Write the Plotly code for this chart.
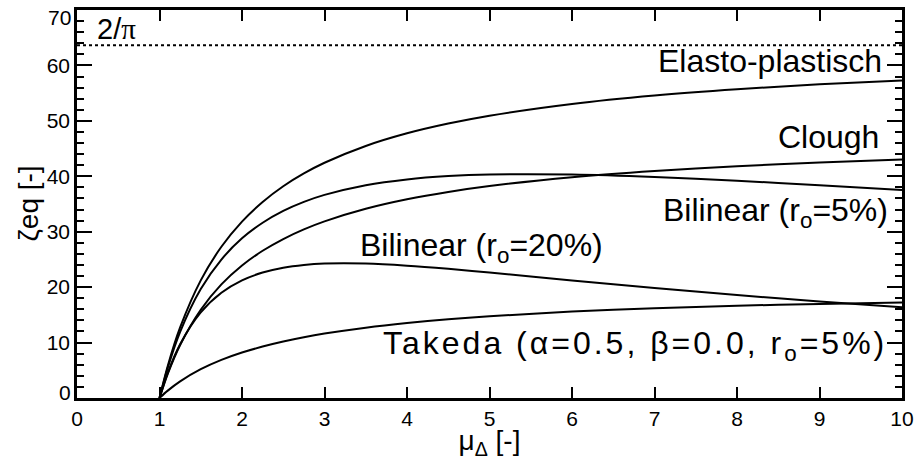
import plotly.graph_objects as go

mu = [1, 1.1, 1.25, 1.5, 1.75, 2, 2.25, 2.5, 2.75, 3, 3.5, 4, 4.5, 5, 6, 7, 8, 9, 10]
elasto = [0, 5.79, 12.73, 21.22, 27.28, 31.83, 35.37, 38.20, 40.51, 42.44, 45.47, 47.75, 49.51, 50.93, 53.05, 54.57, 55.70, 56.59, 57.29]
clough = [0, 4.35, 9.56, 15.93, 20.49, 23.90, 26.56, 28.68, 30.42, 31.87, 34.14, 35.85, 37.18, 38.24, 39.83, 40.97, 41.83, 42.49, 43.02]
bilin5 = [0, 5.47, 11.95, 19.67, 24.98, 28.80, 31.62, 33.76, 35.39, 36.65, 38.40, 39.44, 40.03, 40.32, 40.32, 39.88, 39.20, 38.40, 37.54]
bilin20 = [0, 4.54, 9.70, 15.43, 18.98, 21.22, 22.63, 23.51, 24.01, 24.25, 24.25, 23.87, 23.30, 22.63, 21.22, 19.84, 18.57, 17.41, 16.37]
takeda = [0, 1.33, 3.00, 5.19, 6.87, 8.20, 9.28, 10.19, 10.96, 11.62, 12.69, 13.53, 14.20, 14.75, 15.59, 16.19, 16.64, 16.98, 17.24]
limit_x = [0, 10]
limit_y = [63.66, 63.66]

xticks = [0, 1, 2, 3, 4, 5, 6, 7, 8, 9, 10]
yticks = [0, 10, 20, 30, 40, 50, 60, 70]

FONT = "Liberation Sans, Arial, sans-serif"

fig = go.Figure()
for ys in [elasto, clough, bilin5, bilin20, takeda]:
    fig.add_trace(go.Scatter(x=mu, y=ys, mode="lines",
                             line=dict(color="black", width=2, shape="spline", smoothing=0.8),
                             showlegend=False, hoverinfo="skip"))
fig.add_trace(go.Scatter(x=limit_x, y=limit_y, mode="lines",
                         line=dict(color="black", width=2, dash="dot"),
                         showlegend=False, hoverinfo="skip"))

labels = [
    ("2/<span style='font-family:Liberation Serif'>π</span>", 0.22, 66.6, "left", 29),
    ("Elasto-plastisch", 9.78, 60.8, "right", 32),
    ("Clough", 9.74, 47.1, "right", 32),
    ("Bilinear (r<sub>o</sub>=5%)", 9.85, 33.4, "right", 32),
    ("Bilinear (r<sub>o</sub>=20%)", 3.41, 27.1, "left", 32),
    ("<span style='letter-spacing:3px'>Takeda (α=0.5, β=0.0, r<sub>o</sub>=5%)</span>", 3.68, 9.4, "left", 32),
]
for txt, x, y, anc, sz in labels:
    fig.add_annotation(x=x, y=y, xref="x", yref="y", text=txt, showarrow=False,
                       xanchor=anc, yanchor="middle",
                       font=dict(family=FONT, size=sz, color="black"))

# shifted end labels of the y axis
ytext = [str(v) for v in yticks]
ytext[0] = ""
ytext[-1] = ""
fig.add_annotation(x=0, y=0, xref="paper", yref="y", text="0", showarrow=False,
                   xanchor="right", yanchor="middle", xshift=-4, yshift=6,
                   font=dict(family=FONT, size=21, color="black"))
fig.add_annotation(x=0, y=70, xref="paper", yref="y", text="70", showarrow=False,
                   xanchor="right", yanchor="middle", xshift=-4, yshift=-7,
                   font=dict(family=FONT, size=21, color="black"))
# y axis title
fig.add_annotation(x=-0.060, y=0.5, xref="paper", yref="paper", text="ζeq [-]",
                   showarrow=False, textangle=-90, xanchor="center", yanchor="middle",
                   font=dict(family=FONT, size=28, color="black"))

fig.update_layout(
    width=914, height=460,
    margin=dict(l=77, r=12, t=10, b=62, autoexpand=False),
    plot_bgcolor="white", paper_bgcolor="white",
    font=dict(family=FONT, color="black"),
)
fig.update_xaxes(range=[0, 10], tickvals=xticks, ticktext=[str(v) for v in xticks],
                 ticks="inside", ticklen=11, tickwidth=2, tickcolor="black",
                 showline=True, linewidth=2.5, linecolor="black", mirror="ticks",
                 showgrid=False, zeroline=False, automargin=False,
                 tickfont=dict(family=FONT, size=21),
                 title=dict(text="μ<sub>Δ</sub> [-]", font=dict(family=FONT, size=28), standoff=2))
fig.update_yaxes(range=[0, 70], tickvals=yticks, ticktext=ytext,
                 ticks="inside", ticklen=15, tickwidth=2, tickcolor="black",
                 minor=dict(dtick=2, ticks="inside", ticklen=7, tickwidth=2, tickcolor="black", showgrid=False),
                 showline=True, linewidth=2.5, linecolor="black", mirror="ticks",
                 showgrid=False, zeroline=False, automargin=False,
                 tickfont=dict(family=FONT, size=21))

fig.write_html("out.html")
